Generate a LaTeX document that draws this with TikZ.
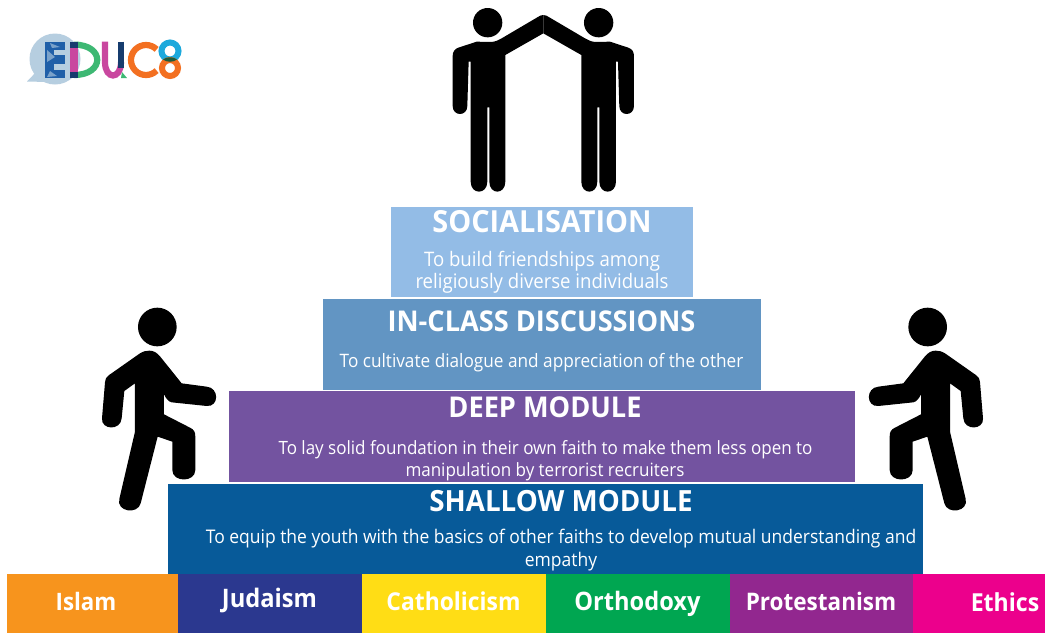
\documentclass[tikz,border=0pt]{standalone}
\usepackage{fontspec}
\setmainfont[FakeStretch=0.93]{Open Sans}
\newfontfamily\headfont[FakeStretch=0.95]{Open Sans}
\definecolor{cSoc}{HTML}{93BCE6}
\definecolor{cCla}{HTML}{6295C3}
\definecolor{cDee}{HTML}{7353A0}
\definecolor{cSha}{HTML}{075A99}
\definecolor{cIsl}{HTML}{F7941D}
\definecolor{cJud}{HTML}{2B388F}
\definecolor{cCat}{HTML}{FFDD15}
\definecolor{cOrt}{HTML}{00A651}
\definecolor{cPro}{HTML}{92278F}
\definecolor{cEth}{HTML}{EC008C}
\definecolor{cBub}{HTML}{B6CEE0}
\definecolor{cBlu}{HTML}{1F5FA8}
\definecolor{cNav}{HTML}{163C6E}
\definecolor{cMag}{HTML}{C9479F}
\definecolor{cGre}{HTML}{3DB873}
\definecolor{cOra}{HTML}{F37021}
\definecolor{cCya}{HTML}{1CA9DC}
\definecolor{cLens}{HTML}{1E5B3A}
\tikzset{
  head/.style={text=white,anchor=base,font=\fontsize{#1}{#1}\selectfont\headfont\bfseries},
  body/.style={text=white,anchor=base,font=\fontsize{#1}{#1}\selectfont},
  faith/.style={text=white,anchor=base,font=\fontsize{#1}{#1}\selectfont\bfseries},
  logo/.style={line width=6.2pt,line cap=butt}
}
\newcommand{\halfman}{%
  (340,45) .. controls (333,45) and (328,48) .. (322,52) -- (215,115) .. controls (205,121) and (195,126) .. (180,126) -- (140,125) -- (85,143)
  .. controls (74,147) and (68,155) .. (68,168) -- (68,318)
  .. controls (68,350) and (112,350) .. (112,318) -- (116,185) -- (122,185) -- (122,545)
  .. controls (122,585) and (172,585) .. (172,545) -- (172,322) -- (178,322) -- (178,545)
  .. controls (178,585) and (226,585) .. (226,545) -- (226,165) -- (340,100) -- cycle}
\newcommand{\walker}{%
  (178,167) .. controls (190,167) and (200,172) .. (210,184) -- (275,265) -- (350,275)
  .. controls (388,278) and (388,336) .. (350,333) -- (245,322)
  .. controls (235,320) and (228,310) .. (222,298) -- (222,358) -- (300,398)
  .. controls (312,404) and (316,410) .. (316,425) -- (316,525)
  .. controls (316,563) and (247,563) .. (247,525) -- (247,440) -- (203,425) -- (152,625)
  .. controls (143,660) and (78,650) .. (88,612) -- (135,410) -- (135,265) -- (103,288) -- (95,370)
  .. controls (92,408) and (33,405) .. (36,370) -- (45,262)
  .. controls (46,252) and (48,247) .. (56,241) -- (150,175)
  .. controls (160,169) and (168,167) .. (178,167) -- cycle}
\begin{document}
\begin{tikzpicture}[x=1pt,y=-1pt]
\useasboundingbox (0,0) rectangle (1045,633);
\fill[white] (0,0) rectangle (1045,633);
% slabs
\fill[cSoc] (391,207) rectangle (693,297);
\fill[cCla] (323,299) rectangle (761,390);
\fill[cDee] (229,391) rectangle (855,482);
\fill[cSha] (168,484) rectangle (923,574);
% base
\fill[cIsl] (7,574) rectangle (178,633);
\fill[cJud] (178,574) rectangle (362,633);
\fill[cCat] (362,574) rectangle (546,633);
\fill[cOrt] (546,574) rectangle (730,633);
\fill[cPro] (730,574) rectangle (913,633);
\fill[cEth] (913,574) rectangle (1045,633);
% top figures
\begin{scope}[shift={(430,0)},x=0.3333pt,y=-0.3333pt]
  \fill[black] \halfman;
  \fill[black] (173,68) circle[radius=44pt/3];
  \begin{scope}[xscale=-1,shift={(-680,0)}]
    \fill[black] \halfman;
    \fill[black] (174,68) circle[radius=44pt/3];
  \end{scope}
\end{scope}
% walkers
\begin{scope}[shift={(90,295)},x=0.3333pt,y=-0.3333pt]
  \fill[black] \walker;
  \fill[black] (202,96) circle[radius=58pt/3];
\end{scope}
\begin{scope}[shift={(995,295)},x=-0.3333pt,y=-0.3333pt]
  \fill[black] \walker;
  \fill[black] (202,96) circle[radius=58pt/3];
\end{scope}
% logo
\fill[cBub] (55,59) circle[radius=25.5pt];
\fill[cBub] (38,70) -- (27,81.5) -- (47,82) -- cycle;
\fill[cBlu] (45,41.5) rectangle (65,78);
\fill[cBub] (54,50) rectangle (65,55);
\fill[cBub] (54,63.5) rectangle (65,70);
\fill[cBub!60!cBlu] (47,50) -- (55,57) -- (47,62) -- cycle;
\fill[cBub!60!cBlu] (50,71) -- (57,76) -- (47,77) -- cycle;
\fill[cBub!60!cBlu] (50,43) -- (60,47) -- (52,48) -- cycle;
\draw[logo,cGre] (74,44.6) .. controls (105,44.6) and (105,75) .. (74,75);
\draw[logo,line width=7.5pt,cNav] (74,41.5) -- (74,78);
\draw[logo,line width=7.5pt,cMag] (74,48) -- (74,72);
\draw[logo,cMag] (105,41.5) -- (105,62) .. controls (105,80) and (121,80) .. (121,62);
\draw[logo,cNav] (121,41.5) -- (121,68);
\fill[cGre] (122,72) -- (127,78) -- (121,78) -- cycle;
\draw[logo,cOra] (146,60)+(-45:15) arc[start angle=-45,end angle=-315,radius=15];
\draw[line width=6pt,cCya] (170,51) circle[radius=8.5pt];
\draw[line width=6pt,cOra] (170,68) circle[radius=8pt];
\fill[cLens] (163,59.5) .. controls (167,56.5) and (173,56.5) .. (177,59.5) .. controls (173,62.5) and (167,62.5) .. (163,59.5) -- cycle;
% texts
\node[head=30.4] (tSoc) at (542,232) {SOCIALISATION};
\node[body=20] (tSoc1) at (542,266) {To build friendships among};
\node[body=20] (tSoc2) at (542,288) {religiously diverse individuals};
\node[head=28.6] (tCla) at (541.5,331) {IN-CLASS DISCUSSIONS};
\node[body=18.5] (tCla1) at (541.5,367) {To cultivate dialogue and appreciation of the other};
\node[head=28.6] (tDee) at (545,417) {DEEP MODULE};
\node[body=18.3] (tDee1) at (545.5,454) {To lay solid foundation in their own faith to make them less open to};
\node[body=18.3] (tDee2) at (545,476) {manipulation by terrorist recruiters};
\node[head=29.2] (tSha) at (561,511) {SHALLOW MODULE};
\node[body=18.8] (tSha1) at (561,543) {To equip the youth with the basics of other faiths to develop mutual understanding and};
\node[body=18.8] (tSha2) at (561,566) {empathy};
\node[faith=24] (fIsl) at (86,610) {Islam};
\node[faith=25.5] (fJud) at (269.5,607) {Judaism};
\node[faith=24.6] (fCat) at (453.5,610) {Catholicism};
\node[faith=25.4] (fOrt) at (637.5,610) {Orthodoxy};
\node[faith=24.2] (fPro) at (821,610) {Protestanism};
\node[faith=24.8] (fEth) at (1005,611) {Ethics};
\end{tikzpicture}
\end{document}
